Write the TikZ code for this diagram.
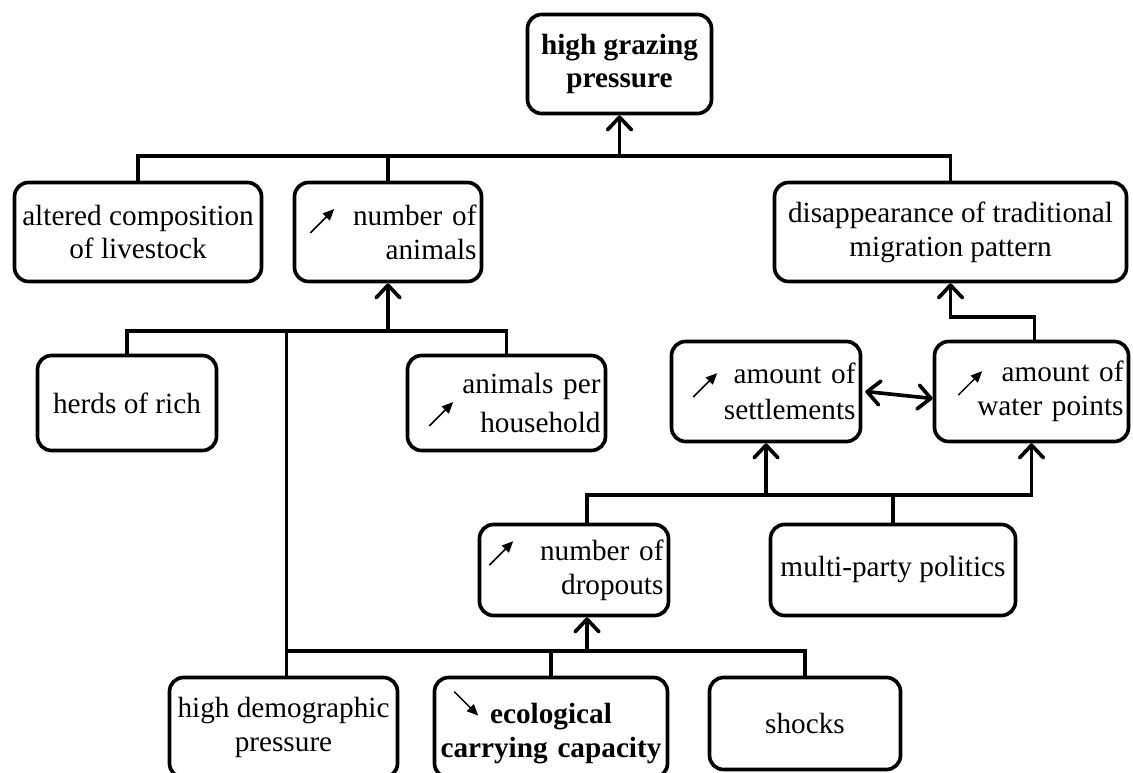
\documentclass[tikz,border=0pt]{standalone}
\usepackage{fontspec}
\setmainfont{Liberation Serif}
\usetikzlibrary{arrows.meta}
\newdimen\px \px=0.025cm
\newsavebox\risebox
\newsavebox\fallbox
% small trend arrows set in front of a label; #1 = vertical shift
\newcommand\incr[1]{\raisebox{#1}{\usebox\risebox}}
\newcommand\decr[1]{\raisebox{#1}{\usebox\fallbox}}
% one thin arrow with a filled head, from (#1,#2) to (#3,#4)
\newcommand\trendarrow[4]{%
  \begin{pgfpicture}
    \pgfsetlinewidth{1.1pt}%
    \pgfsetarrowsend{Triangle[length=8pt,width=7pt]}%
    \pgfpathmoveto{\pgfpoint{#1}{#2}}%
    \pgfpathlineto{\pgfpoint{#3}{#4}}%
    \pgfusepath{stroke}%
  \end{pgfpicture}}
\tikzset{
  box/.style={draw, line width=2.6pt, rounded corners=10pt, inner xsep=5\px,
    inner ysep=2pt, font=\fontsize{20.8pt}{24pt}\selectfont, align=center},
  rbox/.style={box, align=right, text width=#1},
  conn/.style={line width=2.6pt},
  >={Straight Barb[length=9pt,width=17pt,round]}
}
\begin{document}
\sbox\risebox{\trendarrow{0pt}{0pt}{17pt}{17pt}}
\sbox\fallbox{\trendarrow{0pt}{17pt}{17pt}{0pt}}
\begin{tikzpicture}[x=0.025cm, y=-0.025cm]
\useasboundingbox (0,0) rectangle (1133,773);
\clip (0,0) rectangle (1133,773);

% boxes
\node[box, minimum width=184\px, minimum height=99\px, font=\fontsize{20.8pt}{24pt}\selectfont\bfseries]
  (top) at (619.5,64) {high grazing\\pressure};
\node[box, minimum width=247\px, minimum height=99\px] (altered) at (138,232)
  {altered composition\\of livestock};
\node[rbox=177\px, minimum width=187\px, minimum height=99\px] (animals) at (388,232)
  {\hspace*{10\px}\incr{-6pt}\hfill number of\\animals};
\node[box, minimum width=352\px, minimum height=99\px] (disapp) at (950.5,232)
  {disappearance of traditional\\migration pattern};
\node[box, minimum width=179\px, minimum height=95\px] (herds) at (127,403)
  {herds of rich};
\node[rbox=188\px, minimum width=198\px, minimum height=95\px] (household) at (506.5,403)
  {animals per\\\hspace*{16\px}\incr{4pt}\hfill household};
\node[rbox=179\px, minimum width=189\px, minimum height=100\px] (sett) at (766,391.5)
  {\hspace*{16\px}\incr{-10pt}\hfill amount of\\settlements};
\node[rbox=184\px, minimum width=194\px, minimum height=100\px] (water) at (1031.5,391.5)
  {\hspace*{18\px}\incr{-10pt}\hfill amount of\\water points};
\node[rbox=179\px, minimum width=189\px, minimum height=91\px] (drop) at (574,570)
  {\hspace*{4\px}\incr{-4pt}\hfill number of\\dropouts};
\node[box, minimum width=245\px, minimum height=91\px] (multi) at (893,570)
  {multi-party politics};
\node[box, minimum width=228\px, minimum height=100\px] (demog) at (283.5,727.5)
  {high demographic\\pressure\rule[-5pt]{0pt}{5pt}};
\node[box, text width=221\px, minimum width=233\px, minimum height=100\px,
  font=\fontsize{20.8pt}{24pt}\selectfont\bfseries] (eco) at (551,727.5)
  {\makebox[\linewidth]{\rlap{\hspace*{13\px}\decr{5pt}}\hfill ecological\hfill}\\carrying capacity\rule[-5pt]{0pt}{5pt}};
\node[box, minimum width=191\px, minimum height=92\px] (shocks) at (805,723.5)
  {shocks};

% bus levels
\coordinate (b1) at (0,156);
\coordinate (b2) at (0,331);
\coordinate (b3) at (0,651);
\coordinate (b4) at (0,495);
\coordinate (b5) at (0,317);
\coordinate (dropb) at ([xshift=13\px]drop.south);
\coordinate (dropt) at ([xshift=13\px]drop.north);

% first level
\draw[conn] (altered.north) |- (disapp.north |- b1) -- (disapp.north);
\draw[conn] (animals.north) -- (animals.north |- b1);
\draw[conn,->] (top.south |- b1) -- (top.south);

% second level
\draw[conn] (herds.north) |- (household.north |- b2) -- (household.north);
\draw[conn] ([xshift=3\px]demog.north) -- ([xshift=3\px]demog.north |- b2);
\draw[conn,->] (animals.south |- b2) -- (animals.south);

% lowest level
\draw[conn] ([xshift=3\px]demog.north |- b3) -| (shocks.north);
\draw[conn] (eco.north) -- (eco.north |- b3);
\draw[conn,->] (dropb |- b3) -- (dropb);

% settlements and water points
\draw[conn,->] (dropt) |- (water.south |- b4) -- (water.south);
\draw[conn,->] (sett.south |- b4) -- (sett.south);
\draw[conn] (multi.north) -- (multi.north |- b4);
\draw[conn,->] ([xshift=3\px]water.north) |- (disapp.south |- b5) -- (disapp.south);
\draw[conn,<->] ([xshift=3\px]sett.east) -- ([yshift=-7\px]water.west);
\end{tikzpicture}
\end{document}
